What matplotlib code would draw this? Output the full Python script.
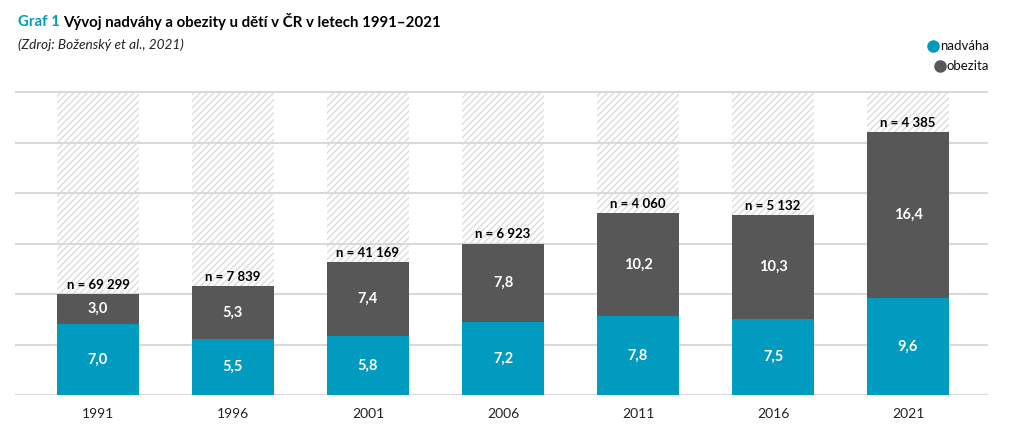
import matplotlib
matplotlib.use("Agg")
import matplotlib.pyplot as plt
from matplotlib.lines import Line2D
import numpy as np

years = ["1991", "1996", "2001", "2006", "2011", "2016", "2021"]
nadvaha = [7.0, 5.5, 5.8, 7.2, 7.8, 7.5, 9.6]
obezita = [3.0, 5.3, 7.4, 7.8, 10.2, 10.3, 16.4]
n_labels = ["n = 69 299", "n = 7 839", "n = 41 169", "n = 6 923", "n = 4 060", "n = 5 132", "n = 4 385"]
series_names = ["nadváha", "obezita"]
bg_max = 30
grid_ticks = [0, 5, 10, 15, 20, 25, 30]

TEAL = "#009bbf"
GRAY = "#575757"
FONT = ["Lato", "DejaVu Sans"]
plt.rcParams['font.family'] = FONT

W, H = 1010, 442
fig = plt.figure(figsize=(W / 100, H / 100), dpi=100)
ax_left, ax_right = 15, 988
ax_bottom, ax_top = 395, 89
ax = fig.add_axes([ax_left / W, 1 - ax_bottom / H, (ax_right - ax_left) / W, (ax_bottom - ax_top) / H])

x = np.arange(len(years))
width = 82 / 135
ax.set_xlim((ax_left - 98) / 135, (ax_right - 98) / 135)
ax.set_ylim(0, 30 * (ax_bottom - ax_top) / 303)

plt.rcParams['hatch.linewidth'] = 0.9
ax.bar(x, [bg_max] * len(x), width=width, color="white", edgecolor="#d9d9d9", hatch="/////", linewidth=0, zorder=1)
for g in grid_ticks:
    ax.axhline(g, color="#d9d9d9", lw=1.5, zorder=2)
ax.bar(x, nadvaha, width=width, color=TEAL, zorder=3)
ax.bar(x, obezita, width=width, bottom=nadvaha, color=GRAY, zorder=3)

for i in range(len(x)):
    ax.text(x[i], nadvaha[i] / 2, f"{nadvaha[i]:.1f}".replace(".", ","), ha="center", va="center",
            color="white", fontsize=10.5, fontweight="bold", zorder=4)
    ax.text(x[i], nadvaha[i] + obezita[i] / 2, f"{obezita[i]:.1f}".replace(".", ","), ha="center", va="center",
            color="white", fontsize=10.5, fontweight="bold", zorder=4)
    ax.text(x[i], nadvaha[i] + obezita[i] + 0.3, n_labels[i], ha="center", va="bottom",
            color="black", fontsize=9.5, fontweight="bold", zorder=4)

ax.set_xticks(x)
ax.set_xticklabels(years, fontsize=10, color="#222222")
ax.tick_params(axis="x", length=0, pad=9)
ax.set_yticks([])
for s in ax.spines.values():
    s.set_visible(False)

# title
t1 = fig.text(18 / W, 1 - 22 / H, "Graf 1 ", color=TEAL, fontsize=10.8, fontweight="bold", va="center", ha="left")
fig.canvas.draw()
bb = t1.get_window_extent()
fig.text(bb.x1 / W, 1 - 22 / H, "Vývoj nadváhy a obezity u dětí v ČR v letech 1991–2021", color="black",
         fontsize=10.8, fontweight="bold", va="center", ha="left")
fig.text(18 / W, 1 - 45 / H, "(Zdroj: Boženský et al., 2021)", color="#222222", fontsize=9.8,
         style="italic", va="center", ha="left")

# legend
for name, col, y in [(series_names[0], TEAL, 46), (series_names[1], GRAY, 66)]:
    t = fig.text(989 / W, 1 - y / H, name, fontsize=9.5, va="center", ha="right", color="#111111")
    fig.canvas.draw()
    b = t.get_window_extent()
    fig.add_artist(Line2D([(b.x0 - 7) / W], [1 - y / H], marker="o", markersize=8, color=col,
                          linestyle="none", transform=fig.transFigure))

fig.savefig("out.png", dpi=100)
